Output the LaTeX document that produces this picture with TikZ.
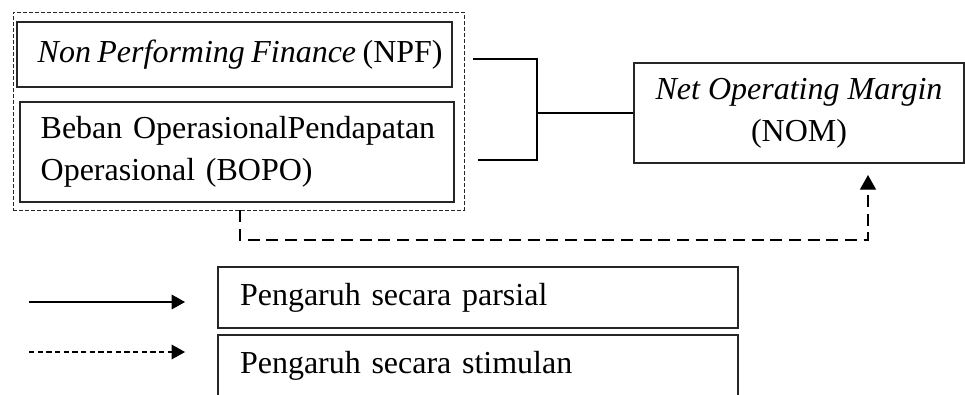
\documentclass[tikz,border=0pt]{standalone}
\usepackage{fontspec}
\setmainfont{Liberation Serif}
\usetikzlibrary{arrows.meta}
\hyphenpenalty=10000
\exhyphenpenalty=10000
\begin{document}
\begin{tikzpicture}[x=0.75pt,y=-0.75pt,
  txt/.style={font=\fontsize{24}{31.5}\selectfont},
  box/.style={draw=black!85, line width=0.8pt, rectangle, txt},
  lbox/.style={box, align=left, inner xsep=0pt, anchor=center,
     execute at begin node={\leftskip=15.5pt\relax}},
  grp/.style={draw=black!85, line width=0.6pt, dash pattern=on 3pt off 1.5pt, rectangle, inner sep=0pt},
  conn/.style={draw=black, line width=0.9pt},
  sim/.style={draw=black, line width=1pt, dash pattern=on 9pt off 5pt},
  tip/.style={-{Triangle[length=10pt,width=11pt]}}
]
\useasboundingbox (0,0) rectangle (965,394);
\clip (0,0) rectangle (965,394);
% group
\node[grp, minimum width=338.25pt, minimum height=148.5pt] (grp) at (238.5,111) {};
\node[lbox, text width=326.25pt, minimum height=48.75pt] (npf) at (234.5,54.5) {\mbox{\spaceskip=0.2em\relax\textit{Non Performing Finance} (NPF)}};
\node[lbox, text width=325.5pt, minimum height=75pt] (bopo) at (237,152) {Beban OperasionalPendapatan\\Operasional (BOPO)};
\node[box, align=center, minimum width=247.5pt, minimum height=75pt] (nom) at (799,113) {\textit{Net Operating Margin}\\(NOM)};
% bracket connectors
\coordinate (b1) at (473,59);
\coordinate (b2) at (478,160);
\coordinate (j) at (537,113);
\draw[conn] (b1) -- (b1 -| j) -- (b2 -| j) -- (b2);
\draw[conn] (j) -- (nom.west);
% simultaneous
\coordinate (s0) at (240,240);
\coordinate (s1) at (868,240);
\coordinate (s2) at (868,175);
\draw[sim, -{Triangle[length=11pt,width=12pt]}] (grp.south -| s0) -- (s0) -- (s1) -- (s2);
% legend
\coordinate (l1a) at (29,302);
\coordinate (l1b) at (185,302);
\coordinate (l2a) at (29,352);
\coordinate (l2b) at (185,352);
\draw[conn, line width=0.8pt, tip] (l1a) -- (l1b);
\draw[conn, line width=0.8pt, dash pattern=on 4pt off 2.5pt, tip] (l2a) -- (l2b);
\node[lbox, execute at begin node={\leftskip=16.5pt\relax}, text width=390pt, minimum height=45.75pt] (lg1) at (478,297.5) {Pengaruh secara parsial};
\node[lbox, execute at begin node={\leftskip=16.5pt\relax}, text width=390pt, minimum height=46.5pt] (lg2) at (478,366) {Pengaruh secara stimulan};
\end{tikzpicture}
\end{document}
